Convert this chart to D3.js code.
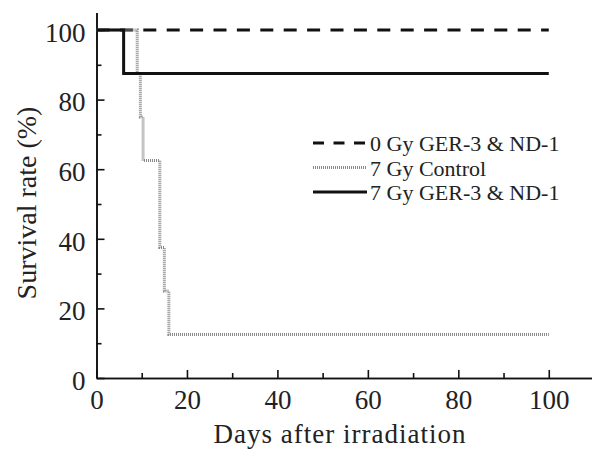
<!DOCTYPE html>
<html>
<head>
<meta charset="utf-8">
<script src="https://cdn.jsdelivr.net/npm/d3@7"></script>
<style>
  body { margin: 0; background: #fff; }
  svg { display: block; font-family: "Liberation Serif", "Times New Roman", serif; }
</style>
</head>
<body>
<div id="chart"></div>
<script>
// survival data (step curves)
const seriesNames = ["0 Gy GER-3 & ND-1", "7 Gy Control", "7 Gy GER-3 & ND-1"];
const days0Gy = [0, 100];
const surv0Gy = [100, 100];
const daysControl = [0, 9, 9.7, 10.3, 14, 15, 16, 100];
const survControl = [100, 87.5, 75, 62.5, 37.5, 25, 12.5, 12.5];
const daysGer = [0, 6, 100];
const survGer = [100, 87.5, 87.5];

const xMajor = [0, 20, 40, 60, 80, 100];
const xMinor = [10, 30, 50, 70, 90];
const yMajor = [0, 20, 40, 60, 80, 100];
const yMinor = [10, 30, 50, 70, 90];

const width = 592, height = 452;

const svg = d3.select("#chart")
  .append("svg")
  .attr("width", width)
  .attr("height", height);

const xScale = d3.scaleLinear()
  .domain([0, 110])
  .range([96.5, 594]);

const yScale = d3.scaleLinear()
  .domain([0, 105])
  .range([378, 12.6]);

// axes - ticks point inward
svg.append("g")
  .attr("transform", `translate(0,${yScale(0)})`)
  .call(d3.axisBottom(xScale).tickValues(xMajor).tickSize(-8).tickSizeOuter(0).tickPadding(12));
svg.append("g")
  .attr("transform", `translate(0,${yScale(0)})`)
  .call(d3.axisBottom(xScale).tickValues(xMinor).tickSize(-5).tickSizeOuter(0).tickFormat(""));

const yAxis = svg.append("g")
  .attr("transform", `translate(${xScale(0)},0)`)
  .call(d3.axisLeft(yScale).tickValues(yMajor).tickSize(-8).tickSizeOuter(0).tickPadding(11));
svg.append("g")
  .attr("transform", `translate(${xScale(0)},0)`)
  .call(d3.axisLeft(yScale).tickValues(yMinor).tickSize(-5).tickSizeOuter(0).tickFormat(""));

yAxis.selectAll(".tick text").attr("dy", "0.42em");

svg.selectAll(".domain, .tick line").attr("stroke", "#111").attr("stroke-width", 1.6);
svg.selectAll(".tick text")
  .attr("font-family", "Liberation Serif")
  .attr("font-size", "27px")
  .attr("fill", "#222");

// axis titles
svg.append("text")
  .attr("x", 340)
  .attr("y", 443)
  .attr("text-anchor", "middle")
  .attr("font-size", "27px")
  .attr("letter-spacing", "1px")
  .attr("fill", "#222")
  .text("Days after irradiation");

svg.append("text")
  .attr("transform", "translate(36,203) rotate(-90)")
  .attr("text-anchor", "middle")
  .attr("font-size", "28px")
  .attr("fill", "#222")
  .text("Survival rate (%)");

// step lines
const line = d3.line()
  .x(d => xScale(d[0]))
  .y(d => yScale(d[1]))
  .curve(d3.curveStepAfter);

const styles = [
  { stroke: "#111", width: 3, dash: "13,10.4" },
  { stroke: "#8a8a8a", width: 3, dash: "1,1" },
  { stroke: "#111", width: 3, dash: null }
];

const series = [
  d3.zip(days0Gy, surv0Gy),
  d3.zip(daysControl, survControl),
  d3.zip(daysGer, survGer)
];

series.forEach((pts, i) => {
  svg.append("path")
    .datum(pts)
    .attr("d", line)
    .attr("fill", "none")
    .attr("stroke", styles[i].stroke)
    .attr("stroke-width", styles[i].width)
    .attr("stroke-dasharray", styles[i].dash);
});

// legend
const legend = svg.append("g").attr("transform", "translate(313,143)");
seriesNames.forEach((name, i) => {
  const g = legend.append("g").attr("transform", `translate(0,${i * 24.5})`);
  g.append("line")
    .attr("x1", 0).attr("x2", 54)
    .attr("y1", 0).attr("y2", 0)
    .attr("stroke", styles[i].stroke)
    .attr("stroke-width", styles[i].width)
    .attr("stroke-dasharray", i === 0 ? "11,9.5" : styles[i].dash);
  g.append("text")
    .attr("x", 57)
    .attr("y", 8)
    .attr("font-size", "22px")
    .attr("fill", "#222")
    .text(name);
});
</script>
</body>
</html>
